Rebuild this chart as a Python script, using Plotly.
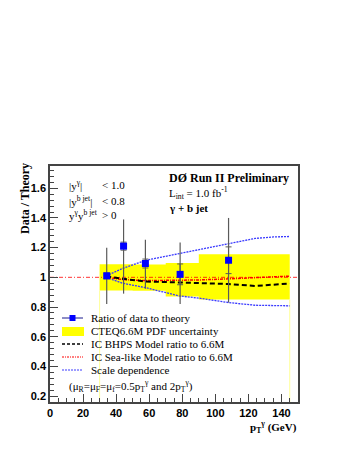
import plotly.graph_objects as go

# ---------------- data ----------------
pt_data = [34.3, 44.5, 57.7, 78.7, 108.0]
ratio = [1.01, 1.21, 1.093, 1.02, 1.115]
tot_plus = [0.19, 0.18, 0.16, 0.215, 0.285]
tot_minus = [0.19, 0.32, 0.17, 0.20, 0.285]
stat_err = [0.02, 0.027, 0.03, 0.07, 0.09]

band_edges = [30, 40, 50, 70, 90, 145]
band_top = [1.088, 1.088, 1.086, 1.097, 1.155]
band_bot = [0.912, 0.912, 0.910, 0.870, 0.850]

curve_pt = [34, 44, 58, 78, 90, 108, 124, 135, 145]
bhps = [1.007, 0.99, 0.972, 0.965, 0.962, 0.955, 0.942, 0.952, 0.958]
sea = [1.0, 0.985, 0.978, 0.978, 0.982, 0.99, 0.998, 1.005, 1.008]
scale_up = [1.01, 1.06, 1.115, 1.16, 1.185, 1.225, 1.262, 1.272, 1.275]
scale_dn = [1.0, 0.96, 0.93, 0.875, 0.86, 0.83, 0.812, 0.81, 0.808]

x_ticks = [0, 20, 40, 60, 80, 100, 120, 140]
y_ticks = [0.2, 0.4, 0.6, 0.8, 1, 1.2, 1.4, 1.6]
y_ticklabels = ["0.2", "0.4", "0.6", "0.8", "1", "1.2", "1.4", "1.6"]

XR = [0, 150]
YR = [0.16, 1.75]

# ---------------- layout geometry (page pixels) ----------------
PAGE_W, PAGE_H = 349, 451
OFF = 8  # default page body margin
W, H = PAGE_W - 2 * OFF, PAGE_H - 2 * OFF
L, R, T, B = 50, 298, 166, 402  # plot area in page pixels


def px(x):
    return (x - L) / (R - L)


def py(y):
    return (B - y) / (B - T)


SERIF = "Liberation Serif, Times New Roman, serif"
SANS = "Liberation Sans, Arial, sans-serif"

BLUE = "#0000ff"
SCALE_BLUE = "#3a3aff"
YELLOW = "#ffff00"
RED = "#ff0000"
GREY = "#5a5a5a"

fig = go.Figure()

# yellow PDF band
bx = band_edges
fig.add_trace(go.Scatter(x=bx, y=band_bot + [band_bot[-1]], mode="lines",
                         line=dict(width=0, shape="hv", color=YELLOW),
                         showlegend=False, hoverinfo="skip"))
fig.add_trace(go.Scatter(x=bx, y=band_top + [band_top[-1]], mode="lines",
                         line=dict(width=0, shape="hv", color=YELLOW),
                         fill="tonexty", fillcolor=YELLOW,
                         showlegend=False, hoverinfo="skip"))
# faint histogram outline edges
fig.add_trace(go.Scatter(x=[band_edges[0], band_edges[0]], y=[YR[0], band_bot[0]],
                         mode="lines", line=dict(width=1, color="#ffff99"),
                         showlegend=False, hoverinfo="skip"))
fig.add_trace(go.Scatter(x=[band_edges[-1], band_edges[-1]], y=[YR[0], band_bot[-1]],
                         mode="lines", line=dict(width=1, color="#ffff99"),
                         showlegend=False, hoverinfo="skip"))

# reference line at 1
fig.add_trace(go.Scatter(x=XR, y=[1, 1], mode="lines",
                         line=dict(width=0.8, color=RED, dash="4px,2px,1px,2px"),
                         showlegend=False, hoverinfo="skip"))

# scale dependence
fig.add_trace(go.Scatter(x=curve_pt, y=scale_up, mode="lines",
                         line=dict(width=1.3, color=SCALE_BLUE, dash="2px,1px"),
                         showlegend=False))
fig.add_trace(go.Scatter(x=curve_pt, y=scale_dn, mode="lines",
                         line=dict(width=1.3, color=SCALE_BLUE, dash="2px,1px"),
                         showlegend=False))
# sea-like
fig.add_trace(go.Scatter(x=curve_pt, y=sea, mode="lines",
                         line=dict(width=1.5, color=RED, dash="3px,1px,1px,1px"),
                         showlegend=False))
# BHPS
fig.add_trace(go.Scatter(x=curve_pt, y=bhps, mode="lines",
                         line=dict(width=2, color="black", dash="5px,3px"),
                         showlegend=False))

# total error bars
fig.add_trace(go.Scatter(x=pt_data, y=ratio, mode="markers",
                         marker=dict(size=1, color="rgba(0,0,0,0)"),
                         error_y=dict(type="data", symmetric=False, array=tot_plus,
                                      arrayminus=tot_minus, width=0, thickness=1.2,
                                      color=GREY),
                         showlegend=False))
# stat error ticks + points
fig.add_trace(go.Scatter(x=pt_data, y=ratio, mode="markers",
                         marker=dict(size=7, symbol="square", color=BLUE),
                         error_y=dict(type="data", array=stat_err, width=3,
                                      thickness=1, color=GREY),
                         showlegend=False))

ann = []


def text(x, y, s, size=11, bold=False, font=SERIF, xanchor="left", angle=0):
    if bold:
        s = "<b>" + s + "</b>"
    ann.append(dict(x=px(x), y=py(y), xref="paper", yref="paper", text=s,
                    showarrow=False, xanchor=xanchor, yanchor="middle",
                    textangle=angle, font=dict(family=font, size=size, color="black")))


# cuts text
text(67, 185, "|y<sup>γ</sup>|", 11)
text(100, 185, "< 1.0", 11)
text(67, 201, "|y<sup>b jet</sup>|", 11)
text(100, 201, "< 0.8", 11)
text(67, 215, "y<sup>γ</sup>y<sup>b jet</sup>", 11)
text(100, 215, "> 0", 11)

# experiment text
text(167, 178, "DØ Run II Preliminary", 12, bold=True)
text(167, 193, "L<sub>int</sub> = 1.0 fb<sup>-1</sup>", 11)
text(167, 208, "γ + b jet", 11, bold=True)

# axis titles
text(25, 199, "Data / Theory", 12, bold=True, xanchor="center", angle=-90)
text(299, 427, "p<sub>T</sub><sup>γ</sup> (GeV)", 11, bold=True, xanchor="right")

# legend
rows = [318, 331, 344, 357, 370]
labels = ["Ratio of data to theory", "CTEQ6.6M PDF uncertainty",
          "IC BHPS Model ratio to 6.6M", "IC Sea-like Model ratio to 6.6M",
          "Scale dependence"]
for yy, lab in zip(rows, labels):
    text(89, yy, lab, 11)
text(67, 386, "(μ<sub>R</sub>=μ<sub>F</sub>=μ<sub>f</sub>=0.5p<sub>T</sub><sup>γ</sup> and 2p<sub>T</sub><sup>γ</sup>)", 11)

shapes = []
# ratio legend symbol
shapes.append(dict(type="line", xref="paper", yref="paper", x0=px(62), x1=px(83),
                   y0=py(318), y1=py(318), line=dict(color="#1a1a8c", width=1)))
shapes.append(dict(type="rect", xref="paper", yref="paper", x0=px(69.5), x1=px(75.5),
                   y0=py(315), y1=py(321), fillcolor=BLUE, line=dict(width=0)))
# band legend symbol
shapes.append(dict(type="rect", xref="paper", yref="paper", x0=px(62), x1=px(84),
                   y0=py(327), y1=py(336), fillcolor=YELLOW, line=dict(width=0)))
# BHPS
shapes.append(dict(type="line", xref="paper", yref="paper", x0=px(62), x1=px(83),
                   y0=py(344), y1=py(344), line=dict(color="black", width=1.5, dash="3px,2px")))
# Sea-like
shapes.append(dict(type="line", xref="paper", yref="paper", x0=px(62), x1=px(83),
                   y0=py(357), y1=py(357), line=dict(color=RED, width=1, dash="2px,1px,1px,1px")))
# scale
shapes.append(dict(type="line", xref="paper", yref="paper", x0=px(62), x1=px(83),
                   y0=py(370), y1=py(370), line=dict(color=SCALE_BLUE, width=1, dash="2px,1px")))

axis_common = dict(showgrid=False, zeroline=False, showline=True, linecolor="#444",
                   linewidth=1.5, mirror=True, ticks="inside", tickcolor="#444",
                   tickwidth=1, ticklen=8, automargin=False,
                   tickfont=dict(family=SANS, size=11, color="black"))

fig.update_layout(
    template="none",
    width=W, height=H,
    margin=dict(l=L - OFF, r=(OFF + W) - R, t=T - OFF, b=(OFF + H) - B, pad=0,
                autoexpand=False),
    paper_bgcolor="white", plot_bgcolor="white",
    showlegend=False,
    xaxis=dict(range=XR, tickvals=x_ticks, ticktext=[f"<b>{v}</b>" for v in x_ticks],
               minor=dict(ticks="inside", ticklen=4, dtick=5, tickcolor="#444"),
               **axis_common),
    yaxis=dict(range=YR, tickvals=y_ticks, ticktext=[f"<b>{v}</b>" for v in y_ticklabels],
               minor=dict(ticks="inside", ticklen=4, dtick=0.04, tick0=0, tickcolor="#444"),
               **axis_common),
    annotations=ann, shapes=shapes,
)

fig.write_html("out.html")
